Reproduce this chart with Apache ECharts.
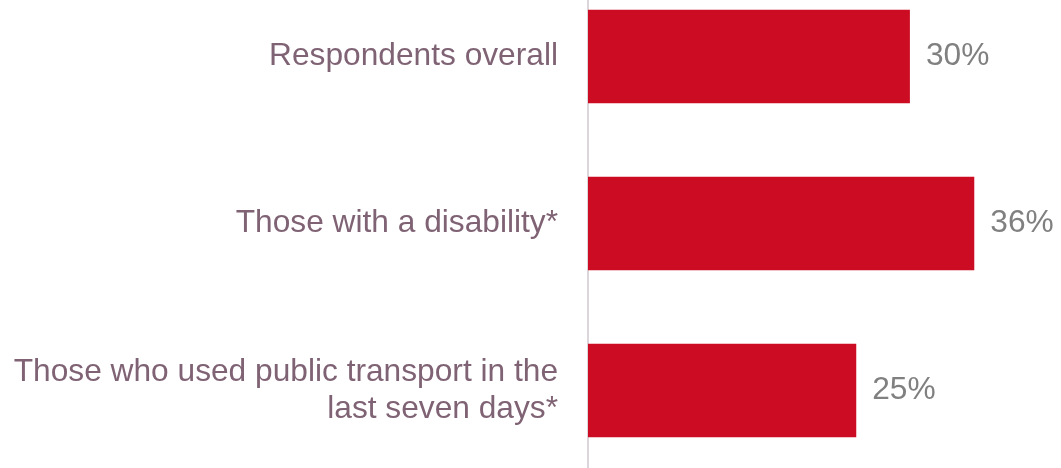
<!DOCTYPE html>
<html><head><meta charset="utf-8">
<script src="https://cdn.jsdelivr.net/npm/echarts@6/dist/echarts.min.js"></script>
<style>html,body{margin:0;padding:0;background:#fff;overflow:hidden}#c{width:1061px;height:501px;position:absolute;left:0;top:-27px}</style>
</head><body><div id="c"></div>
<script>
const categories = ["Respondents overall", "Those with a disability*", "Those who used public transport in the\nlast seven days*"];
const values = [30, 36, 25];

const chart = echarts.init(document.getElementById('c'), null, {renderer: 'canvas'});
chart.setOption({
  animation: false,
  grid: {left: 588, top: 0, width: 429.2, height: 501},
  xAxis: {type: 'value', min: 0, max: 40, show: false},
  yAxis: {
    type: 'category', data: categories, inverse: true,
    axisLine: {show: true, lineStyle: {color: '#dcd6dc', width: 2}},
    axisTick: {show: false},
    axisLabel: {color: '#7f6374', fontFamily: 'Liberation Sans', fontSize: 31.7, margin: 30, align: 'right', lineHeight: 37, padding: [6, 0, 0, 0]}
  },
  series: [{
    type: 'bar', data: values, barCategoryGap: '44%',
    itemStyle: {color: '#cb0c22'},
    label: {show: true, position: 'right', distance: 16, formatter: '{c}%', color: '#808080', fontFamily: 'Liberation Sans', fontSize: 31.7, padding: [6, 0, 0, 0]}
  }]
});
</script></body></html>
